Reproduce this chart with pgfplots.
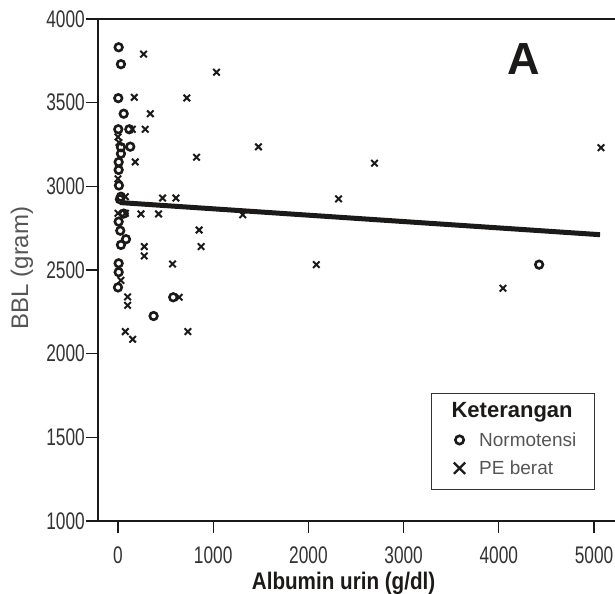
\documentclass[border=0pt]{standalone}
\usepackage{fontspec}
\setmainfont{Liberation Sans}
\newfontfamily\cond[FakeStretch=0.72]{Liberation Sans}
\newfontfamily\condb[FakeStretch=0.86]{Liberation Sans}
\usepackage{pgfplots}
\pgfplotsset{compat=1.18}
\definecolor{ink}{HTML}{1C1A18}
\definecolor{tickgray}{HTML}{333333}
\definecolor{labgray}{HTML}{555555}

\begin{document}
\begin{tikzpicture}
\path[use as bounding box] (-98bp,-73bp) rectangle (517bp,521bp);
\begin{axis}[
    width=517bp, height=502bp, scale only axis,
    xmin=-210, xmax=5220, ymin=1000, ymax=4000,
    clip=false,
    axis lines=left,
    axis line style={-, line width=2.5bp, ink},
    xtick={0,1000,...,5000},
    ytick={1000,1500,...,4000},
    tick align=outside, major tick length=12bp,
    every tick/.style={ink, line width=1.2bp},
    tick label style={font=\cond\fontsize{24bp}{26bp}\selectfont, text=tickgray},
    /pgf/number format/assume math mode=true,
    /pgf/number format/1000 sep={},
    xticklabel style={yshift=-10bp},
    yticklabel style={inner sep=1bp},
    xlabel={Albumin urin (g/dl)},
    xlabel style={at={(axis description cs:0.475,-0.1235)}, anchor=center,
        font=\condb\bfseries\fontsize{24bp}{26bp}\selectfont, text=ink},
    ylabel={BBL (gram)},
    ylabel style={at={(axis description cs:-0.147,0.504)}, anchor=center,
        font=\fontsize{24bp}{26bp}\selectfont, text=labgray},
    legend style={at={(rel axis cs:0.688,0.181)}, anchor=north west,
        draw=none, fill=none, inner sep=0pt,
        font=\fontsize{19bp}{21bp}\selectfont, text=labgray,
        row sep=9bp, /tikz/column sep=12bp},
    legend cell align=left,
    legend image code/.code={\draw[#1] plot coordinates {(0bp,0bp)};},
]
% Normotensi
\addplot[forget plot, only marks, mark=o, mark size=3.8bp, line width=2.6bp, ink]
coordinates {
(7,3831)(31,3730)(3,3527)(60,3434)(3,3341)(119,3341)(31,3234)(129,3237)
(31,3195)(7,3145)(7,3098)(10,3005)(31,2938)(20,2923)(60,2837)(7,2789)
(24,2735)(84,2684)(31,2650)(7,2540)(7,2487)(0,2396)(580,2337)(374,2225)
(4423,2532)
};
% PE berat
\addplot[forget plot, only marks, mark=x, mark size=4.6bp, line width=2bp, ink]
coordinates {
(269,3790)(1035,3682)(171,3532)(723,3528)(340,3434)(150,3341)(286,3341)
(0,3295)(10,3262)(1475,3236)(825,3174)(2694,3138)(181,3146)(0,3045)
(468,2930)(608,2930)(77,2938)(2317,2925)(0,2839)(77,2839)(241,2835)
(426,2835)(1310,2830)(852,2739)(276,2640)(873,2640)(276,2584)(573,2536)
(2083,2532)(31,2438)(101,2339)(643,2337)(101,2289)(77,2132)(154,2086)
(734,2132)(4043,2391)(5073,3231)
};
% regression line
\addplot[forget plot, ink, line width=5bp] coordinates {(20,2903) (5063,2711)};

\addlegendimage{only marks, mark=o, mark size=4.2bp, line width=2.6bp, ink}
\addlegendentry{Normotensi}
\addlegendimage{only marks, mark=x, mark size=8bp, line width=2.3bp, ink}
\addlegendentry{PE berat}

\draw[ink, line width=2.5bp] (rel axis cs:0,1) -- (rel axis cs:1,1);
\draw[tickgray, line width=1.2bp] (rel axis cs:0.6455,0.0631) rectangle (rel axis cs:0.960,0.2544);
\node[font=\bfseries\fontsize{22bp}{24bp}\selectfont, text=ink] at (rel axis cs:0.801,0.217) {Keterangan};
\node[font=\bfseries\fontsize{45bp}{45bp}\selectfont, text=ink] at (rel axis cs:0.824,0.920) {A};
\end{axis}
\end{tikzpicture}
\end{document}
